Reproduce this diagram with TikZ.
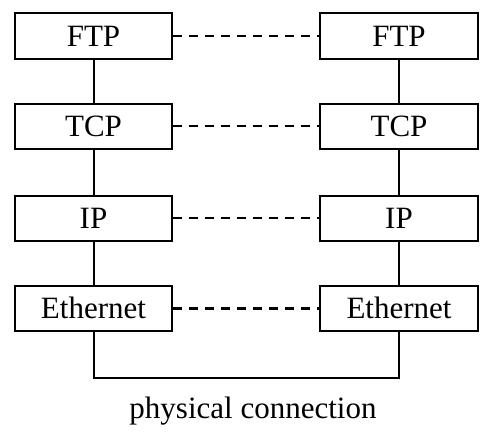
\documentclass[tikz,border=0pt]{standalone}
\usepackage{fontspec}
\setmainfont{Liberation Serif}
\usetikzlibrary{positioning}

\begin{document}
\begin{tikzpicture}[x=1pt,y=-1pt,
		layer/.style={draw,line width=2pt,minimum width=157.5pt,minimum height=45.5pt,inner sep=0pt,font=\fontsize{31}{37}\selectfont},
		peer/.style={line width=2.2pt,dash pattern=on 9pt off 7pt}]
		\useasboundingbox (0,0) rectangle (495,437);
		\node[layer] (ftpA) at (93.5,36) {FTP};
		\node[layer,below=42.75pt of ftpA] (tcpA) {TCP};
		\node[layer,below=44.5pt of tcpA] (ipA) {IP};
		\node[layer,below=42.5pt of ipA] (ethA) {Ethernet};
		\node[layer,right=146pt of ftpA] (ftpB) {FTP};
		\node[layer,right=146pt of tcpA] (tcpB) {TCP};
		\node[layer,right=146pt of ipA] (ipB) {IP};
		\node[layer,right=146pt of ethA] (ethB) {Ethernet};
		\draw[line width=2pt] (ftpA) -- (tcpA) -- (ipA) -- (ethA);
		\draw[line width=2pt] (ftpB) -- (tcpB) -- (ipB) -- (ethB);
		\draw[peer] (ftpA) -- (ftpB);
		\draw[peer] (tcpA) -- (tcpB);
		\draw[peer] (ipA) -- (ipB);
		\draw[peer,line width=3.2pt] (ethA) -- (ethB);
		\draw[line width=2pt] (ethA.south) -- ++(0,46) -| (ethB.south);
		\node[anchor=base,font=\fontsize{31}{37}\selectfont] (phys) at (253,418) {physical connection};
	\end{tikzpicture}
\end{document}
